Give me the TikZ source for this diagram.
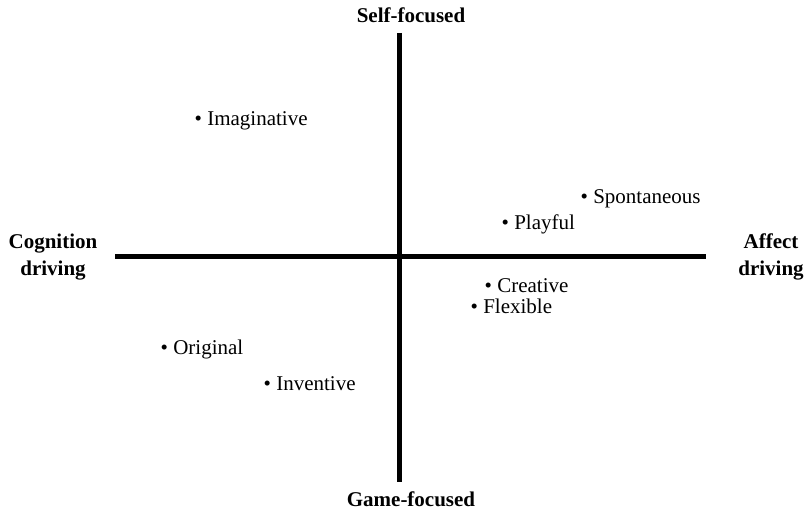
\documentclass[tikz,border=0pt]{standalone}
\usepackage{fontspec}
\setmainfont{Liberation Serif}
\usetikzlibrary{positioning}
\tikzset{
  axisline/.style={line width=5pt},
  axislabel/.style={font=\fontsize{21}{27}\selectfont\bfseries, align=center, inner sep=0pt},
  trait/.style={font=\fontsize{21}{24}\selectfont, anchor=base west, inner sep=0pt}
}

\begin{document}
\begin{tikzpicture}[x=1pt, y=-1pt]
    \useasboundingbox (0,0) rectangle (804,513);

    % Axes
    \coordinate (top) at (399,33);
    \coordinate (bottom) at (399,482);
    \coordinate (left) at (115,257);
    \coordinate (right) at (706,257);
    \draw[axisline] (left) -- (right);
    \draw[axisline] (top) -- (bottom);

    % Axis labels
    \node[axislabel, anchor=base] (self) at (411,23) {Self-focused};
    \node[axislabel, anchor=base] (game) at (411,506) {Game-focused};
    \node[axislabel] (cognition) at (53,257) {Cognition\\driving};
    \node[axislabel] (affect) at (771,257) {Affect\\driving};

    % Traits
    \foreach \px/\py/\name/\txt in {194.5/126/imag/Imaginative, 580.5/204/spont/Spontaneous,
        501.5/230/play/Playful, 484.5/293/creat/Creative, 470.5/314/flex/Flexible,
        160.5/355/orig/Original, 263.5/390/invent/Inventive} {
        \node[trait] (\name) at (\px,\py) {\textbullet\ \txt};
    }
\end{tikzpicture}
\end{document}
